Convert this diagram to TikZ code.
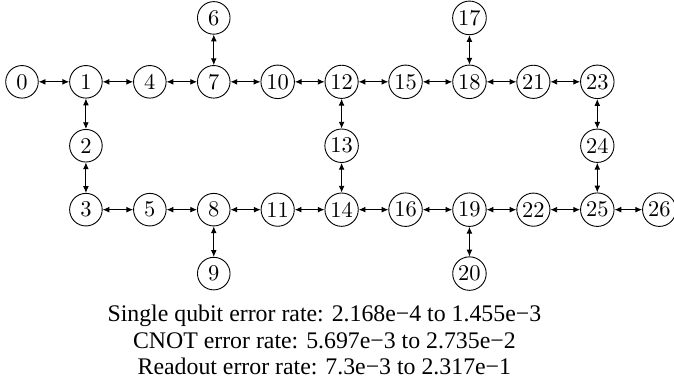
\documentclass[tikz,border=0pt]{standalone}
\usepackage{fontspec}
\newfontfamily\ratefont{Liberation Serif}
\usepackage{tikz}
\usetikzlibrary{arrows.meta}
\tikzset{
	qubit/.style={draw, circle, minimum size=14.5pt, inner sep=1pt},
	link/.style={{Latex[length=3pt,width=2.6pt]}-{Latex[length=3pt,width=2.6pt]}}
}

\begin{document}
\begin{tikzpicture}
			%%%%% START %%%%%
			\useasboundingbox (-0.344, -4.84) rectangle (10.2, 1.28);
			
			% top row
			\node[qubit] (q0) at (0, 0) {0};
			\node[qubit] (q1) at (1, 0) {1};
			\node[qubit] (q4) at (2, 0) {4};
			\node[qubit] (q7) at (3, 0) {7};
			\node[qubit] (q10) at (4, 0) {10};
			\node[qubit] (q12) at (5, 0) {12};
			\node[qubit] (q15) at (6, 0) {15};
			\node[qubit] (q18) at (7, 0) {18};
			\node[qubit] (q21) at (8, 0) {21};
			\node[qubit] (q23) at (9, 0) {23};
			
			\node[qubit] (q6) at (3, 1) {6};
			\node[qubit] (q17) at (7, 1) {17};
			
			% middle
			\node[qubit] (q2) at (1, -1) {2};
			\node[qubit] (q13) at (5, -1) {13};
			\node[qubit] (q24) at (9, -1) {24};
			
			% bottom row
			\node[qubit] (q3) at (1, -2) {3};
			\node[qubit] (q5) at (2, -2) {5};
			\node[qubit] (q8) at (3, -2) {8};
			\node[qubit] (q11) at (4, -2) {11};
			\node[qubit] (q14) at (5, -2) {14};
			\node[qubit] (q16) at (6, -2) {16};
			\node[qubit] (q19) at (7, -2) {19};
			\node[qubit] (q22) at (8, -2) {22};
			\node[qubit] (q25) at (9, -2) {25};
			\node[qubit] (q26) at (9.97, -2) {26};
			
			\node[qubit] (q9) at (3, -3) {9};
			\node[qubit] (q20) at (7, -3) {20};
			
			% couplings
			\draw[link] (q0) -- (q1);
			\draw[link] (q1) -- (q4);
			\draw[link] (q4) -- (q7);
			\draw[link] (q7) -- (q10);
			\draw[link] (q10) -- (q12);
			\draw[link] (q12) -- (q15);
			\draw[link] (q15) -- (q18);
			\draw[link] (q18) -- (q21);
			\draw[link] (q21) -- (q23);
			
			\draw[link] (q6) -- (q7);
			\draw[link] (q17) -- (q18);
			
			\draw[link] (q1) -- (q2);
			\draw[link] (q2) -- (q3);
			\draw[link] (q12) -- (q13);
			\draw[link] (q13) -- (q14);
			\draw[link] (q23) -- (q24);
			\draw[link] (q24) -- (q25);
			
			\draw[link] (q3) -- (q5);
			\draw[link] (q5) -- (q8);
			\draw[link] (q8) -- (q11);
			\draw[link] (q11) -- (q14);
			\draw[link] (q14) -- (q16);
			\draw[link] (q16) -- (q19);
			\draw[link] (q19) -- (q22);
			\draw[link] (q22) -- (q25);
			\draw[link] (q25) -- (q26);
			
			\draw[link] (q8) -- (q9);
			\draw[link] (q19) -- (q20);
			
			% error rates
			\node[align=center, font=\ratefont\fontsize{10.6}{11.8}\selectfont] (rates) at (4.73, -4.04) {Single qubit error rate: 2.168e−4 to 1.455e−3\\CNOT error rate: 5.697e−3 to 2.735e−2\\Readout error rate: 7.3e−3 to 2.317e−1};
			
			%%%%% END %%%%%
		\end{tikzpicture}
\end{document}
